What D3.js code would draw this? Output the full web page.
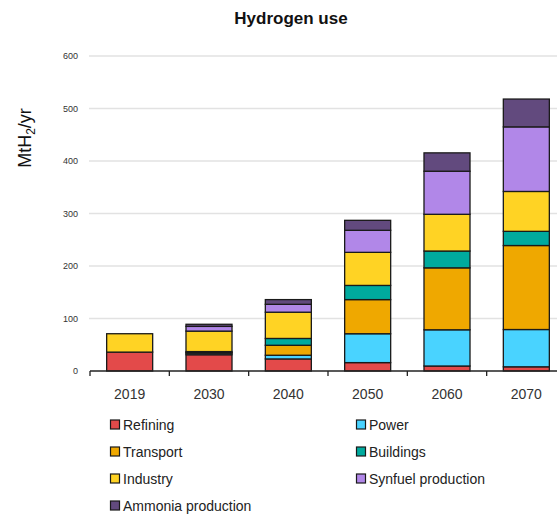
<!DOCTYPE html>
<html>
<head>
<meta charset="utf-8">
<script src="https://cdn.jsdelivr.net/npm/d3@7"></script>
<style>
  body { margin: 0; background: #fff; }
  svg { display: block; font-family: "Liberation Sans", Arial, sans-serif; }
</style>
</head>
<body>
<svg id="chart" width="557" height="515"></svg>
<script>
const years = ['2019', '2030', '2040', '2050', '2060', '2070'];
const series = ['Refining', 'Power', 'Transport', 'Buildings', 'Industry', 'Synfuel production', 'Ammonia production'];
const colors = ['#e34a4a', '#49d3ff', '#efa800', '#00aa9e', '#ffd324', '#b187e8', '#624a7e'];

const refining = [36, 31, 23, 16, 9.5, 8];
const power = [0, 3, 7, 55, 69, 71];
const transport = [0, 1, 19, 65, 118, 160];
const buildings = [0, 2, 13, 27, 32, 27];
const industry = [35, 39, 50, 63, 70, 76];
const synfuel = [0, 9, 15, 42, 82, 123];
const ammonia = [0, 4, 9, 19, 35, 53];

const yTicks = [0, 100, 200, 300, 400, 500, 600];

const values = [refining, power, transport, buildings, industry, synfuel, ammonia];
const rows = years.map((y, i) => {
  const r = { year: y };
  series.forEach((s, j) => { r[s] = values[j][i]; });
  return r;
});

const MARGINS = { top: 56, left: 90, bottom: 144 };
const svg = d3.select('#chart');

const scaleX = d3.scaleBand()
  .domain(years)
  .range([MARGINS.left, 566])
  .paddingInner(0.42)
  .paddingOuter(0.21);

const scaleY = d3.scaleLinear()
  .domain([0, 600])
  .range([371, 56]);

// grid
svg.append('g').attr('class', 'grid')
  .selectAll('line')
  .data(yTicks.filter(t => t > 0))
  .join('line')
  .attr('x1', 89).attr('x2', 557)
  .attr('y1', d => scaleY(d)).attr('y2', d => scaleY(d))
  .attr('stroke', '#e2e2e2').attr('stroke-width', 1.5);

// y tick labels
svg.append('g').attr('class', 'axis-y')
  .selectAll('text')
  .data(yTicks)
  .join('text')
  .attr('x', 78)
  .attr('y', d => scaleY(d) + 3)
  .attr('text-anchor', 'end')
  .attr('font-size', 9)
  .attr('fill', '#333')
  .text(d => d);

// stacked bars
const stacked = d3.stack().keys(series)(rows);
svg.append('g').attr('class', 'bars')
  .selectAll('g')
  .data(stacked)
  .join('g')
  .attr('fill', (d, i) => colors[i])
  .selectAll('rect')
  .data(d => d.filter(p => p[1] - p[0] > 0))
  .join('rect')
  .attr('x', d => scaleX(d.data.year))
  .attr('y', d => scaleY(d[1]))
  .attr('width', scaleX.bandwidth())
  .attr('height', d => scaleY(d[0]) - scaleY(d[1]))
  .attr('stroke', '#1a1a1a')
  .attr('stroke-width', 1.3);

// x axis
const axisX = svg.append('g').attr('class', 'axis-x')
  .attr('transform', 'translate(0,371)')
  .call(d3.axisBottom(scaleX).tickSize(0).tickPadding(18));
axisX.select('.domain').remove();
axisX.selectAll('text').attr('font-size', 14).attr('fill', '#333')
  .attr('font-family', '"Liberation Sans", Arial, sans-serif');
axisX.append('line')
  .attr('x1', MARGINS.left).attr('x2', 557)
  .attr('y1', 0).attr('y2', 0)
  .attr('stroke', '#222').attr('stroke-width', 1.3);
const step = scaleX.step();
axisX.selectAll('.sep')
  .data(d3.range(years.length))
  .join('line')
  .attr('class', 'sep')
  .attr('x1', i => MARGINS.left + i * step)
  .attr('x2', i => MARGINS.left + i * step)
  .attr('y1', 0).attr('y2', 5)
  .attr('stroke', '#222').attr('stroke-width', 1.3);

// title
svg.append('text')
  .attr('x', 291).attr('y', 24)
  .attr('text-anchor', 'middle')
  .attr('font-size', 17).attr('font-weight', 'bold')
  .attr('fill', '#111')
  .text('Hydrogen use');

// y label
const yl = svg.append('text')
  .attr('transform', 'translate(31,138) rotate(-90)')
  .attr('text-anchor', 'middle')
  .attr('font-size', 18)
  .attr('fill', '#111');
yl.append('tspan').text('MtH');
yl.append('tspan').attr('font-size', 12).attr('dy', 4).text('2');
yl.append('tspan').attr('dy', -4).text('/yr');

// legend
const legend = svg.append('g').attr('class', 'legend')
  .selectAll('g')
  .data(series)
  .join('g')
  .attr('transform', (d, i) => `translate(${i % 2 === 0 ? 110 : 356},${425 + Math.floor(i / 2) * 27})`);
legend.append('rect')
  .attr('x', 0.5).attr('y', -5).attr('width', 9).attr('height', 9)
  .attr('fill', (d, i) => colors[i])
  .attr('stroke', '#1a1a1a').attr('stroke-width', 1.2);
legend.append('text')
  .attr('x', 13).attr('y', 5)
  .attr('font-size', 14).attr('fill', '#222')
  .text(d => d);
</script>
</body>
</html>
